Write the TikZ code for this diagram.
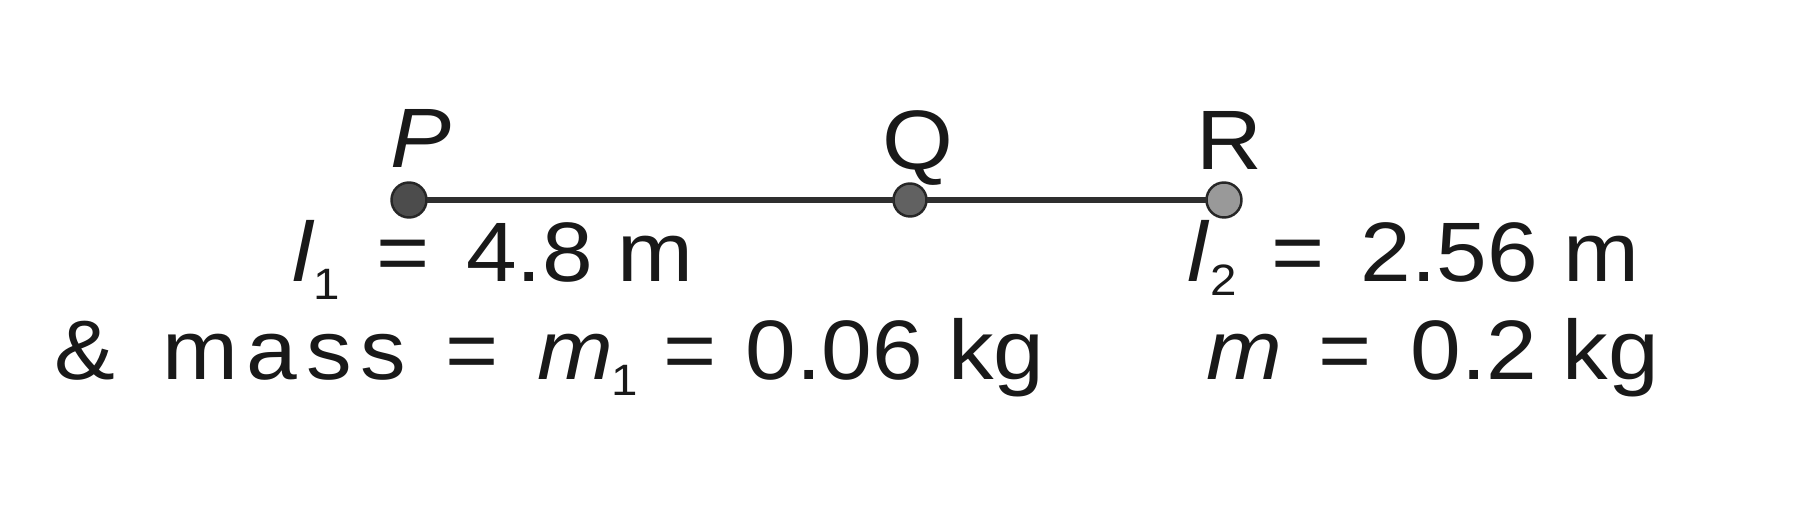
\documentclass[tikz,border=0pt]{standalone}
\usepackage{fontspec}
\setmainfont[FakeStretch=1.08]{Liberation Sans}
\begin{document}
\begin{tikzpicture}[x=0.1mm,y=-0.1mm,
  every node/.style={inner sep=0pt,outer sep=0pt,font=\fontsize{24}{28}\selectfont,text=black!90},
  txt/.style={anchor=base},
  sub/.style={anchor=base,font=\fontsize{12.5}{13}\selectfont},
  ball/.style={circle,fill=black!70,draw=black!85,line width=0.7pt,minimum size=#1},
  rod/.style={line width=1.8pt,draw=black!82}]
\useasboundingbox (0,0) rectangle (1796,520);
\fill[white] (0,0) rectangle (1796,520);
% labels
\node[txt] (Plbl) at (421,168) {\itshape P};
\node[txt] (Qlbl) at (918,170) {Q};
\node[txt] (Rlbl) at (1229,170) {R};
% balls
\node[ball=3.5mm] (P) at (409,200) {};
\node[ball=3.3mm,fill=black!62] (Q) at (910,200) {};
\node[ball=3.5mm,fill=black!40] (R) at (1224,200) {};
\draw[rod] (P) -- (Q) -- (R);
% line 1
\node[txt] (l1) at (303,282) {\itshape l};
\node[sub] (l1s) at (327,300) {1};
\node[txt] (eq1) at (403,282) {=};
\node[txt] (v1) at (580,282) {4.8 m};
\node[txt] (l2) at (1198,282) {\itshape l};
\node[sub] (l2s) at (1224,296) {2};
\node[txt] (eq2) at (1298,282) {=};
\node[txt] (v2) at (1500,282) {2.56 m};
% line 2
\node[txt] (amp) at (85,380) {\&};
\node[txt] (mass) at (284,380) {m\hspace{2.5pt}a\hspace{2.5pt}s\hspace{2.5pt}s};
\node[txt] (eq3) at (472,380) {=};
\node[txt] (m1) at (575,380) {\itshape m};
\node[sub] (m1s) at (625,396) {1};
\node[txt] (eq4) at (690,380) {=};
\node[txt] (v3) at (895,380) {0.06 kg};
\node[txt] (m2) at (1244,380) {\itshape m};
\node[txt] (eq5) at (1345,380) {=};
\node[txt] (v4) at (1535,380) {0.2 kg};
\end{tikzpicture}
\end{document}
